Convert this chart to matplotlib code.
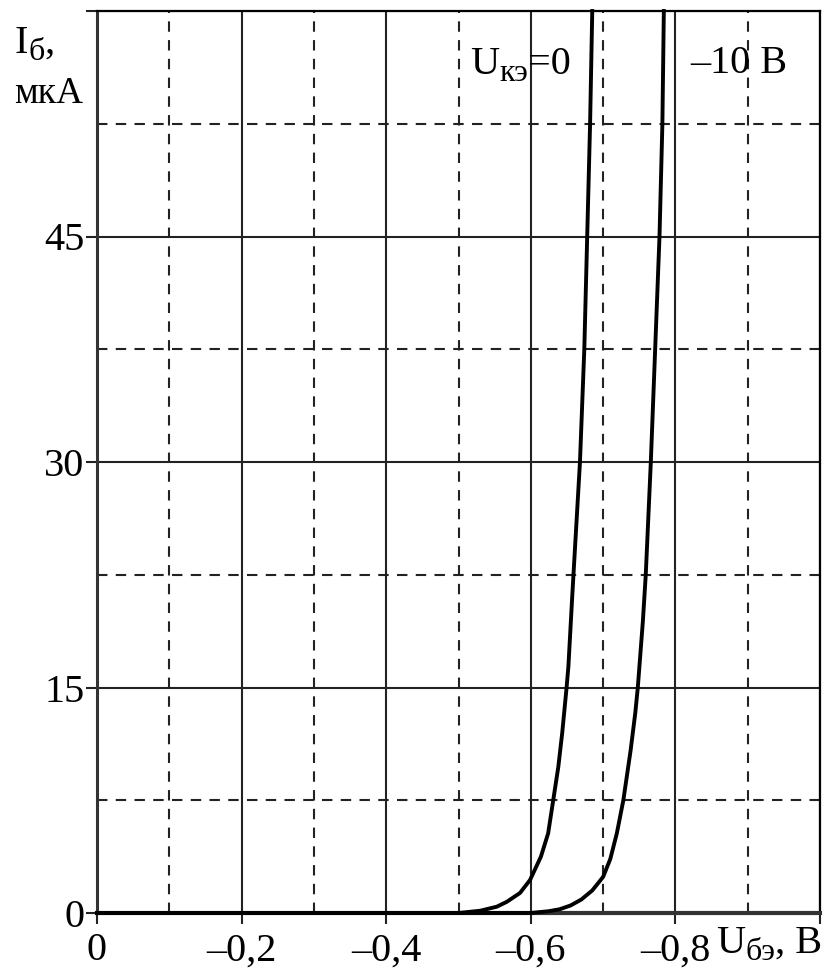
import numpy as np
import matplotlib.pyplot as plt
from matplotlib.transforms import IdentityTransform

plt.rcParams['font.family'] = ['Liberation Serif', 'DejaVu Serif']

# входная характеристика, Uкэ = 0
u_be_0 = [0, -0.50, -0.53, -0.553, -0.567, -0.585, -0.599, -0.614, -0.624,
          -0.631, -0.638, -0.6435, -0.6495, -0.652, -0.657, -0.659, -0.668,
          -0.674, -0.678, -0.682, -0.685]
i_b_0 = [0, 0, 0.15, 0.42, 0.75, 1.33, 2.2, 3.75, 5.3,
         7.5, 9.7, 12.0, 15, 16.4, 20.8, 22.5, 30,
         37.5, 45, 52.5, 60]

# входная характеристика, Uкэ = -10 В
u_be_10 = [0, -0.60, -0.625, -0.64, -0.655, -0.67, -0.685, -0.70, -0.71,
           -0.719, -0.728, -0.738, -0.7445, -0.748, -0.755, -0.759, -0.766,
           -0.772, -0.778, -0.782, -0.784]
i_b_10 = [0, 0, 0.12, 0.25, 0.5, 0.9, 1.5, 2.4, 3.6,
          5.3, 7.5, 10.8, 13.3, 15, 19.4, 22.5, 30,
          37.5, 45, 52.5, 60]

x_ticks = [0, -0.2, -0.4, -0.6, -0.8, -1.0]
x_tick_labels = ['0', '–0,2', '–0,4', '–0,6', '–0,8', '']
x_minor = [-0.1, -0.3, -0.5, -0.7, -0.9]
y_ticks = [0, 15, 30, 45, 60]
y_tick_labels = ['0', '15', '30', '45', '']
y_minor = [7.5, 22.5, 37.5, 52.5]

fig = plt.figure(figsize=(8.25, 9.76), dpi=100)
ax = fig.add_axes([97 / 825, 63 / 976, 723 / 825, 902 / 976])

ax.set_xlim(0, -1.0)
ax.set_ylim(0, 60)

# сетка
for xv in x_ticks[1:]:
    ax.axvline(xv, color='#222222', lw=1.5, zorder=1)
for xv in x_minor:
    ax.axvline(xv, color='#222222', lw=1.5, ls=(0, (5, 4)), zorder=1)
for yv in y_ticks[1:]:
    ax.axhline(yv, color='#222222', lw=1.5, zorder=1)
for yv in y_minor:
    ax.axhline(yv, color='#222222', lw=1.5, ls=(0, (5, 4)), zorder=1)

ax.plot(u_be_0, i_b_0, color='black', lw=2.8, zorder=3, clip_on=False)
ax.plot(u_be_10, i_b_10, color='black', lw=2.8, zorder=3, clip_on=False)

ax.set_xticks(x_ticks)
ax.set_xticklabels(x_tick_labels)
ax.set_yticks(y_ticks)
ax.set_yticklabels(y_tick_labels)
ax.tick_params(axis='x', length=8, width=1.5, labelsize=29, pad=6, color='#222222')
ax.tick_params(axis='y', length=8, width=1.5, labelsize=29, pad=1, color='#222222')

for s in ['left', 'bottom']:
    ax.spines[s].set_linewidth(2.2)
    ax.spines[s].set_color('#333333')
ax.spines['right'].set_linewidth(1.6)
ax.spines['top'].set_linewidth(1.6)
ax.spines['bottom'].set_linewidth(3)

renderer = fig.canvas.get_renderer()


# текст с нижним индексом: куски (строка, размер, сдвиг вниз в пикселях)
def sub_text(px, py, pieces):
    for s, size, dy in pieces:
        t = fig.text(px, py - dy, s, fontsize=size, ha='left', va='baseline',
                     transform=IdentityTransform())
        px += t.get_window_extent(renderer).width


sub_text(15, 976 - 53, [('I', 29, 0), ('б', 23, 7), (',', 29, 0)])
fig.text(14 / 825, 1 - 103 / 976, 'мкА', fontsize=27, ha='left', va='baseline')
sub_text(716, 976 - 953, [('U', 29, 0), ('бэ', 23, 7), (', В', 29, 0)])

x0, y0 = ax.transData.transform((-0.516, 55.8))
sub_text(x0, y0, [('U', 29, 0), ('кэ', 23, 7), ('=0', 29, 0)])
x1, y1 = ax.transData.transform((-0.820, 55.9))
sub_text(x1, y1, [('–10 В', 29, 0)])

fig.savefig('out.png', dpi=100)
